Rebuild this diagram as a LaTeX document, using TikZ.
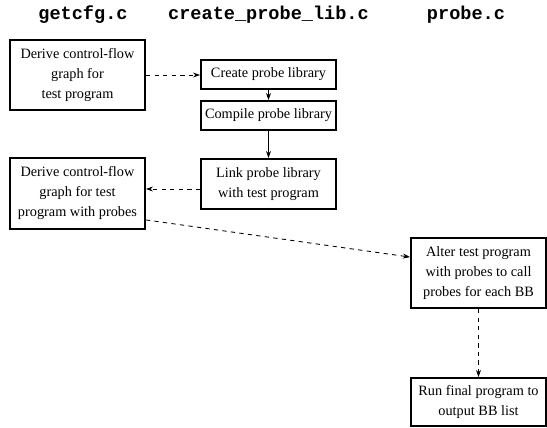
\documentclass[tikz,border=0pt]{standalone}
\usepackage{fontspec}
\setmainfont{Liberation Serif}
\setmonofont{Liberation Mono}
\usepackage{tikz}
\usetikzlibrary{positioning}
\usetikzlibrary{arrows.meta}

\begin{document}
\begin{tikzpicture}[x=0.7pt,y=-0.7pt,
  stepbox/.style={draw, line width=1.3pt, align=center, inner sep=2pt,
    minimum width=94.5pt, font=\fontsize{10}{14}\selectfont},
  hdr/.style={font=\ttfamily\bfseries\fontsize{13}{15}\selectfont},
  solidarrow/.style={-{Stealth[length=5pt,width=3.5pt]}, line width=.6pt},
  dasharrow/.style={-{Stealth[length=5pt,width=3.5pt]}, line width=.6pt, dash pattern=on 3pt off 3pt}]
\useasboundingbox (0,0) rectangle (547,428);

\node(hcfg) at (83,15) [hdr] {getcfg.c};
\node(hlib) at (268.5,15) [hdr] {create\_probe\_lib.c};
\node(hprobe) at (466,15) [hdr] {probe.c};

\node(cfg) at (77.5,75) [stepbox, minimum height=49pt] {Derive control-flow\\graph for\\test program};
\node(create) at (268.5,74.5) [stepbox, minimum height=20.3pt] {Create probe library};
\node(compile) at (268.5,115.5) [stepbox, minimum height=20.3pt] {Compile probe library};
\node(link) at (268.5,184) [stepbox, minimum height=35pt] {Link probe library\\with test program};
\node(cfgprobe) at (77.5,193.5) [stepbox, minimum height=49.7pt] {Derive control-flow\\graph for test\\program with probes};
\node(alter) at (478.5,273) [stepbox, minimum height=49pt] {Alter test program\\with probes to call\\probes for each BB};
\node(run) at (478.5,402) [stepbox, minimum height=33.6pt] {Run final program to\\output BB list};

\draw[dasharrow] (cfg.east) -- (cfg.east -| create.west);
\draw[solidarrow] (create) -- (compile);
\draw[solidarrow] (compile) -- (link);
\draw[dasharrow] ([yshift=-3.5pt]link.west) -- ([yshift=-3.5pt]link.west -| cfgprobe.east);
\draw[dasharrow] ([yshift=7pt]cfgprobe.south east) -- ([yshift=-14pt]alter.north west);
\draw[dasharrow] (alter) -- (run);
\end{tikzpicture}
\end{document}
